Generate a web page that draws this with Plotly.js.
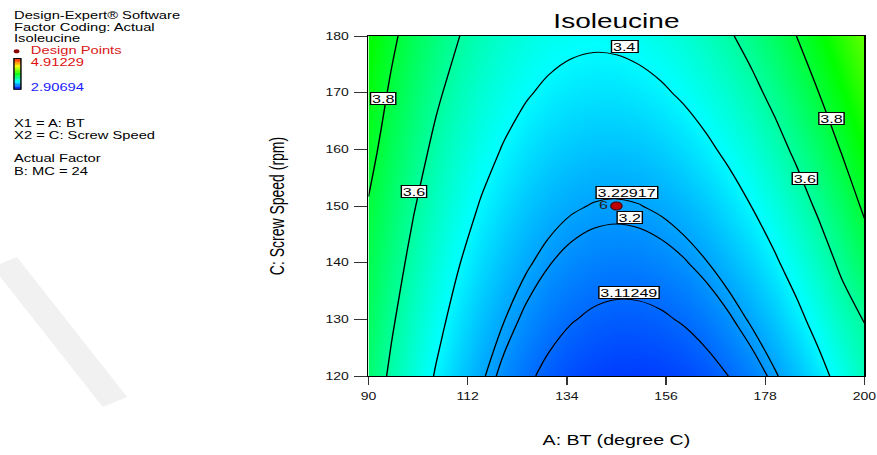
<!DOCTYPE html>
<html>
<head>
<meta charset="utf-8">
<script src="https://cdn.plot.ly/plotly-3.0.1.min.js"></script>
<style>
  html, body { margin: 0; padding: 0; background: #fff; overflow: hidden; }
  #wrap { width: 877px; height: 455px; overflow: hidden; }
  #chart { width: 626px; height: 455px; transform: scale(1.40096, 1); transform-origin: 0 0; }
</style>
</head>
<body>
<div id="wrap"><div id="chart"></div></div>
<script>
// ---------------- data ----------------
const bt = [90, 95, 100, 105, 110, 115, 120, 125, 130, 135, 140, 145, 150, 155, 160, 165, 170, 175, 180, 185, 190, 195, 200];
const screwSpeed = [120, 130, 140, 150, 160, 170, 180];
const iso120 = [3.6879,3.5788,3.4796,3.3901,3.3103,3.2403,3.1801,3.1296,3.0888,3.0578,3.0366,3.0251,3.0233,3.0313,3.0490,3.0765,3.1138,3.1608,3.2175,3.2840,3.3603,3.4463,3.5420];
const iso130 = [3.7250,3.6185,3.5218,3.4348,3.3575,3.2900,3.2322,3.1842,3.1460,3.1174,3.0987,3.0897,3.0904,3.1009,3.1212,3.1511,3.1909,3.2404,3.2996,3.3686,3.4474,3.5358,3.6040];
const iso140 = [3.7560,3.6588,3.5646,3.4800,3.4053,3.3403,3.2850,3.2395,3.2037,3.1777,3.1615,3.1549,3.1582,3.1712,3.1939,3.2264,3.2686,3.3206,3.3824,3.4538,3.5351,3.6261,3.7268];
const iso150 = [3.7920,3.6998,3.6080,3.5260,3.4537,3.3912,3.3384,3.2954,3.2621,3.2386,3.2249,3.2208,3.2266,3.2421,3.2673,3.3023,3.3470,3.4015,3.4657,3.5397,3.6234,3.7169,3.8202];
const iso160 = [3.8404,3.7413,3.6521,3.5726,3.5028,3.4428,3.3925,3.3520,3.3212,3.3002,3.2889,3.2874,3.2956,3.3136,3.3413,3.3788,3.4260,3.4830,3.5497,3.6262,3.7124,3.8084,3.9142];
const iso170 = [3.8801,3.7836,3.6968,3.6198,3.5525,3.4950,3.4472,3.4092,3.3809,3.3624,3.3536,3.3546,3.3653,3.3858,3.4160,3.4560,3.5057,3.5652,3.6344,3.7134,3.8021,3.9006,4.0088];
const iso180 = [3.9204,3.8264,3.7421,3.6676,3.6028,3.5478,3.5025,3.4670,3.4412,3.4252,3.4189,3.4224,3.4356,3.4586,3.4913,3.5338,3.5860,3.6479,3.7197,3.8011,3.8924,3.9933,4.1041];
const contourLevels = [3.11249, 3.2, 3.22917, 3.4, 3.6, 3.8];
const colorMin = 2.90694;
const colorMax = 4.91229;
const designX = [145];
const designY = [150];
const designLabel = ['6'];
const xTicks = [90, 112, 134, 156, 178, 200];
const yTicks = [120, 130, 140, 150, 160, 170, 180];
const infoLines = ['Design-Expert® Software', 'Factor Coding: Actual', 'Isoleucine', 'X1 = A: BT', 'X2 = C: Screw Speed', 'Actual Factor', 'B: MC = 24'];

// ---------------- layout helpers ----------------
const W = 626, H = 455, S = 877 / 626;
const M = {l: 263.4, r: 9.3, t: 36, b: 79};
const pw = W - M.l - M.r, ph = H - M.t - M.b;
const fx = px => (px / S - M.l) / pw;      // final-image x pixel -> paper
const fy = py => (H - M.b - py) / ph;      // final-image y pixel -> paper
const FONT = 'Liberation Sans, Arial, Helvetica, sans-serif';

const zGrid = [iso120, iso130, iso140, iso150, iso160, iso170, iso180];
const cstops = [[0, [0, 0, 255]], [0.25, [0, 255, 255]], [0.5, [0, 255, 0]], [0.75, [255, 255, 0]], [1, [255, 0, 0]]];
const cscale = cstops.map(s => [s[0], 'rgb(' + s[1].join(',') + ')']);
function colorAt(t) {
  for (let i = 1; i < cstops.length; i++) {
    if (t <= cstops[i][0]) {
      const a = cstops[i - 1], b = cstops[i], f = (t - a[0]) / (b[0] - a[0]);
      return 'rgb(' + a[1].map((c, k) => Math.round(c + (b[1][k] - c) * f)).join(',') + ')';
    }
  }
  return 'rgb(255,0,0)';
}

const traces = [{
  type: 'heatmap', x: bt, y: screwSpeed, z: zGrid,
  zmin: colorMin, zmax: colorMax, colorscale: cscale, zsmooth: 'best',
  hoverinfo: 'skip', showscale: false
}];
contourLevels.forEach(v => traces.push({
  type: 'contour', x: bt, y: screwSpeed, z: zGrid,
  autocontour: false, contours: {start: v, end: v, size: 1, coloring: 'none'},
  line: {color: '#000', width: 1, smoothing: 1}, showscale: false, hoverinfo: 'skip'
}));
traces.push({
  type: 'scatter', mode: 'markers+text', x: designX, y: designY, text: designLabel,
  textposition: 'middle left', textfont: {family: FONT, size: 11.5, color: '#222'},
  marker: {size: 8, color: '#c00000', line: {color: '#500000', width: 1}},
  cliponaxis: false, hoverinfo: 'skip', showlegend: false
});

// contour label placement (data coordinates)
const labelSpots = [
  {v: 3.4, x: 146.9, y: 178.2},
  {v: 3.8, x: 93.3, y: 168.9},
  {v: 3.6, x: 100.2, y: 152.5},
  {v: 3.8, x: 192.8, y: 165.4},
  {v: 3.6, x: 186.9, y: 154.8},
  {v: 3.22917, x: 147.4, y: 152.4},
  {v: 3.2, x: 147.8, y: 148.0},
  {v: 3.11249, x: 147.8, y: 134.7}
];
const annotations = labelSpots.map(s => ({
  x: s.x, y: s.y, xref: 'x', yref: 'y', text: String(s.v), showarrow: false,
  font: {family: FONT, size: 11.5, color: '#000'}, bgcolor: '#fff',
  bordercolor: '#000', borderwidth: 1, borderpad: 0.5, height: 10
}));

// left information block
const infoY = [15, 26.7, 38, 122.5, 134.7, 158.3, 170.5];
infoLines.forEach((t, i) => annotations.push({
  xref: 'paper', yref: 'paper', x: fx(12), y: fy(infoY[i]), xanchor: 'left', yanchor: 'middle',
  text: t, showarrow: false, font: {family: FONT, size: 10.5, color: '#000'}
}));
annotations.push({xref: 'paper', yref: 'paper', x: fx(29), y: fy(50.3), xanchor: 'left', yanchor: 'middle',
  text: 'Design Points', showarrow: false, font: {family: FONT, size: 10.5, color: '#d81818'}});
annotations.push({xref: 'paper', yref: 'paper', x: fx(29), y: fy(62.3), xanchor: 'left', yanchor: 'middle',
  text: String(colorMax), showarrow: false, font: {family: FONT, size: 10.5, color: '#e01010'}});
annotations.push({xref: 'paper', yref: 'paper', x: fx(29), y: fy(86.7), xanchor: 'left', yanchor: 'middle',
  text: String(colorMin), showarrow: false, font: {family: FONT, size: 10.5, color: '#1a1aff'}});

const shapes = [
  {type: 'line', xref: 'paper', yref: 'paper', x0: fx(6), y0: fy(262), x1: fx(116), y1: fy(402),
   line: {color: 'rgba(215,215,215,0.35)', width: 20}, layer: 'below'},
  {type: 'circle', xref: 'paper', yref: 'paper', x0: fx(15), x1: fx(20.7), y0: fy(53.3), y1: fy(49.3),
   fillcolor: '#8b0000', line: {width: 0}}
];
// small colour-ramp key (top = high, bottom = low)
const barTop = 58.5, barBot = 89.3, steps = 40;
for (let i = 0; i < steps; i++) {
  const t = 1 - (i + 0.5) / steps;
  shapes.push({type: 'rect', xref: 'paper', yref: 'paper',
    x0: fx(15.2), x1: fx(22.2),
    y0: fy(barTop + (barBot - barTop) * i / steps), y1: fy(barTop + (barBot - barTop) * (i + 1) / steps + 0.3),
    fillcolor: colorAt(t), line: {width: 0}});
}
shapes.push({type: 'rect', xref: 'paper', yref: 'paper', x0: fx(15.2), x1: fx(22.2), y0: fy(barBot), y1: fy(barTop),
  fillcolor: 'rgba(0,0,0,0)', line: {color: '#000', width: 1}});

const axisCommon = {
  ticks: 'outside', tickcolor: '#333', tickwidth: 1, showline: true, linecolor: '#000', linewidth: 1,
  mirror: true, showgrid: false, zeroline: false, tickmode: 'array',
  tickfont: {family: FONT, size: 10, color: '#111'}, automargin: false
};

const layout = {
  width: W, height: H, autosize: false,
  margin: {l: M.l, r: M.r, t: M.t, b: M.b, pad: 0},
  paper_bgcolor: '#fff', plot_bgcolor: '#fff',
  font: {family: FONT, color: '#000'},
  showlegend: false,
  title: {text: 'Isoleucine', font: {family: FONT, size: 20, color: '#000'},
          x: 0.5, xref: 'paper', xanchor: 'center', y: 1 - 21 / H, yref: 'container', yanchor: 'middle'},
  xaxis: Object.assign({}, axisCommon, {range: [90, 200], tickvals: xTicks, ticklen: 8, ticklabelstandoff: 3,
          title: {text: 'A: BT (degree C)', font: {family: FONT, size: 14, color: '#000'}, standoff: 34}}),
  yaxis: Object.assign({}, axisCommon, {range: [120, 180], tickvals: yTicks, ticklen: 9, ticklabelstandoff: 2,
          title: {text: 'C: Screw Speed (rpm)', font: {family: FONT, size: 14, color: '#000'}, standoff: 25}}),
  annotations: annotations,
  shapes: shapes
};

Plotly.newPlot('chart', traces, layout, {staticPlot: true, displayModeBar: false});
</script>
</body>
</html>
